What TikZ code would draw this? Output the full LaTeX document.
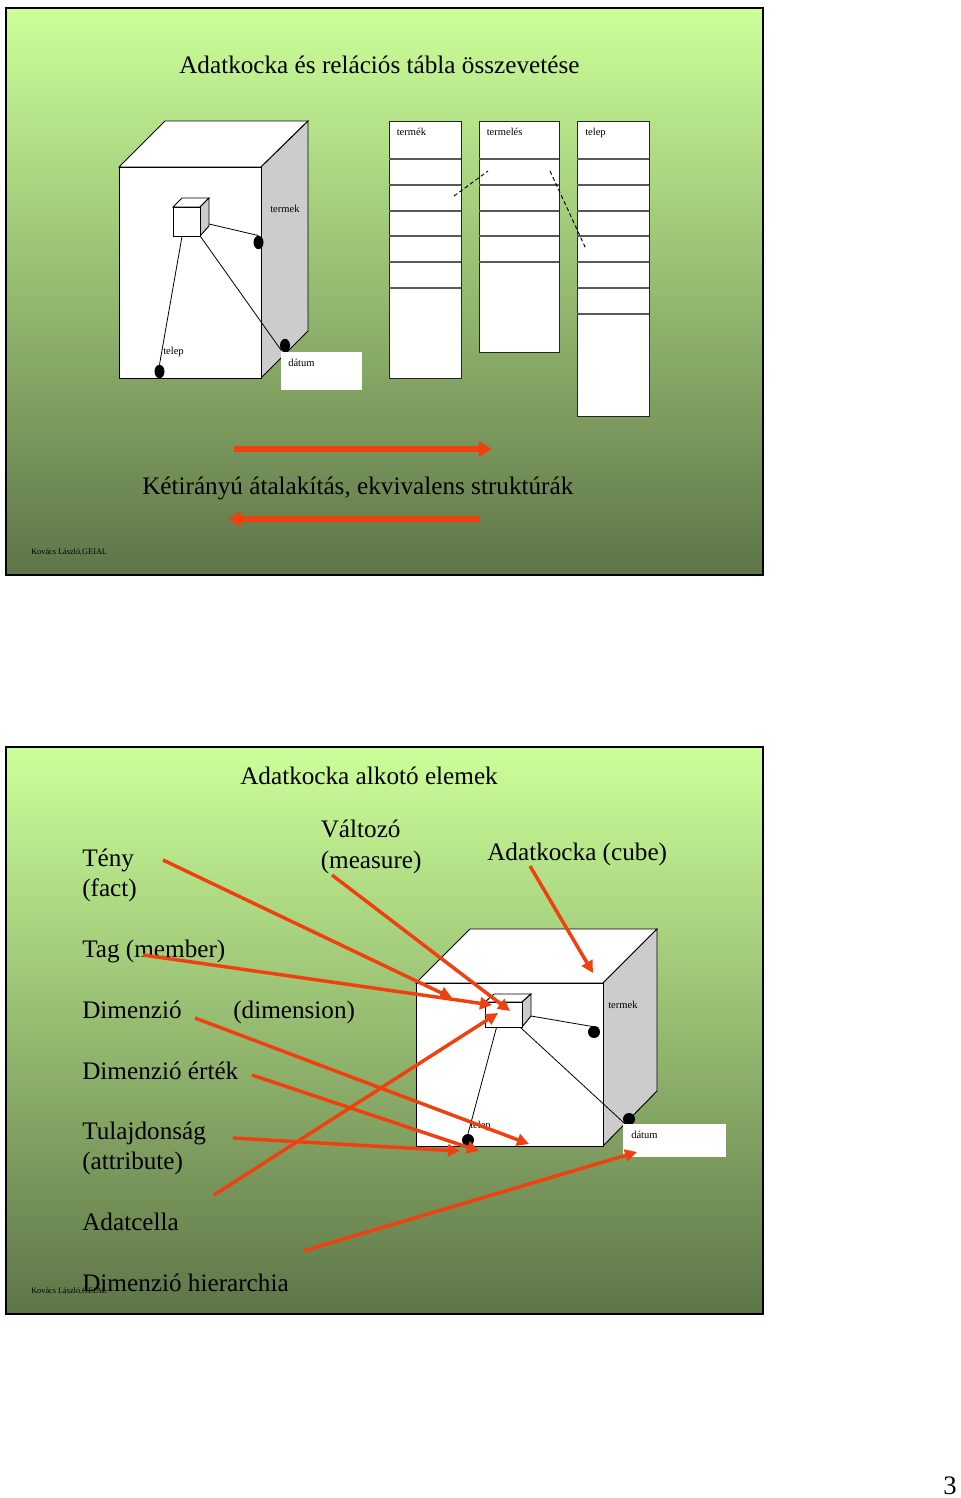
\documentclass[tikz,border=0pt]{standalone}
\usepackage{fontspec}
\setmainfont{Liberation Serif}
\usetikzlibrary{arrows.meta}
\usetikzlibrary{shapes.geometric}
\definecolor{slidetop}{HTML}{CCFF99}
\definecolor{slidebot}{HTML}{5E7548}
\definecolor{redarrow}{HTML}{F04010}
\definecolor{sidegray}{HTML}{CCCCCC}
\tikzset{
  slide/.style={draw=black, line width=2.2pt, top color=slidetop, bottom color=slidebot},
  bigtext/.style={anchor=base west, inner sep=0pt, font=\fontsize{18.9}{22}\selectfont},
  smalltext/.style={anchor=base west, inner sep=0pt, font=\fontsize{7.9}{10}\selectfont},
  footer/.style={anchor=base west, inner sep=0pt, font=\fontsize{6.2}{8}\selectfont},
  face/.style={draw=black, line width=0.7pt, fill=white},
  side/.style={draw=black, line width=0.7pt, fill=sidegray},
  tablebox/.style={draw=black!85, line width=0.7pt, fill=white},
  rowline/.style={draw=black!65, line width=0.8pt},
  axis/.style={draw=black, line width=0.6pt},
  dot/.style={ellipse, fill=black, inner sep=0pt, minimum width=#1},
  redline/.style={draw=redarrow, line width=2.6pt, -{Triangle[length=9pt,width=9pt]}},
  redwide/.style={draw=redarrow, line width=3.8pt, -{Triangle[length=10pt,width=11pt]}}
}
\begin{document}
\begin{tikzpicture}[x=0.75pt, y=-0.75pt]
\useasboundingbox (0,0) rectangle (960,1498);

% Slide 1
\path[slide] (6,8) rectangle (763,575);
\node[bigtext] (title1) at (179,74) {Adatkocka és relációs tábla összevetése};

% Kocka 1
\path[face] (119,167) -- (165,121) -- (308,121) -- (261,167) -- cycle;
\path[side] (261,167) -- (308,121) -- (308,331) -- (261,378) -- cycle;
\path[face] (119,167) rectangle (261,378);
\path[face] (173,207) -- (182,198) -- (209,198) -- (200,207) -- cycle;
\path[side] (200,207) -- (209,198) -- (209,226) -- (200,236) -- cycle;
\node[face, minimum width=20.25pt, minimum height=21.75pt, inner sep=0pt] (cell1) at (186.5,221.5) {};
\coordinate (cell1r) at (209,224);

\node[dot=7.5pt, minimum height=10pt] (dotterm1) at (258.5,242.5) {};
\node[dot=7.5pt, minimum height=10pt] (dottelep1) at (159.5,371.5) {};
\node[dot=7.5pt, minimum height=10pt] (dotdat1) at (285,345.5) {};
\draw[axis] (cell1r) -- (dotterm1.north);
\draw[axis] (cell1.south) ++(-4.5,0) -- (dottelep1.north);
\draw[axis] (cell1.south east) -- (dotdat1.south west);

\node[smalltext] (term1) at (270,213) {termek};
\node[smalltext] (telep1) at (163,354) {telep};
\node[fill=white, minimum width=60.75pt, minimum height=28.5pt, inner sep=0pt] (datbox1) at (321.5,371) {};
\node[smalltext] (dat1) at (288,366) {dátum};

% Tablak
\path[tablebox] (389,121) rectangle (461,378);
\path[tablebox] (479,121) rectangle (559,352);
\path[tablebox] (577,121) rectangle (649,416);
\draw[rowline] (389,159) -- (461,159);
\draw[rowline] (389,185) -- (461,185);
\draw[rowline] (389,211) -- (461,211);
\draw[rowline] (389,236) -- (461,236);
\draw[rowline] (389,262) -- (461,262);
\draw[rowline] (389,288) -- (461,288);
\draw[rowline] (479,159) -- (559,159);
\draw[rowline] (479,185) -- (559,185);
\draw[rowline] (479,211) -- (559,211);
\draw[rowline] (479,236) -- (559,236);
\draw[rowline] (479,262) -- (559,262);
\draw[rowline] (577,159) -- (649,159);
\draw[rowline] (577,185) -- (649,185);
\draw[rowline] (577,211) -- (649,211);
\draw[rowline] (577,236) -- (649,236);
\draw[rowline] (577,262) -- (649,262);
\draw[rowline] (577,288) -- (649,288);
\draw[rowline] (577,314) -- (649,314);
\node[smalltext] (thead1) at (396.5,136) {termék};
\node[smalltext] (thead2) at (486.5,136) {termelés};
\node[smalltext] (thead3) at (585,136) {telep};

\coordinate (fkA) at (454,196);
\coordinate (fkB) at (488,171);
\coordinate (fkC) at (550,171);
\coordinate (fkD) at (586,249);
\draw[line width=0.7pt, dash pattern=on 3pt off 2pt] (fkA) -- (fkB);
\draw[line width=0.7pt, dash pattern=on 3pt off 2pt] (fkC) -- (fkD);

% Nyilak
\node[bigtext] (convert) at (142,494) {Kétirányú átalakítás, ekvivalens struktúrák};
\coordinate (toA) at (234,449);
\coordinate (toB) at (492,449);
\coordinate (backA) at (480,519);
\coordinate (backB) at (228,519);
\draw[redwide] (toA) -- (toB);
\draw[redwide] (backA) -- (backB);
\node[footer] (foot1) at (31,554) {Kovács László,GEIAL};

% Slide 2
\path[slide] (6,747) rectangle (763,1314);
\node[bigtext] (title2) at (240,784) {Adatkocka alkotó elemek};
\node[bigtext] (fact1) at (82,866) {Tény};
\node[bigtext] (fact2) at (82,896) {(fact)};
\node[bigtext] (meas1) at (320.5,837) {Változó};
\node[bigtext] (meas2) at (320.5,868) {(measure)};
\node[bigtext] (cube) at (487,860) {Adatkocka (cube)};
\node[bigtext] (member) at (82,957) {Tag (member)};
\node[bigtext] (dimen) at (82,1018) {Dimenzió};
\node[bigtext] (dimen2) at (233,1018) {(dimension)};
\node[bigtext] (value) at (82,1079) {Dimenzió érték};
\node[bigtext] (attr1) at (82,1139) {Tulajdonság};
\node[bigtext] (attr2) at (82,1169) {(attribute)};
\node[bigtext] (celltxt) at (82,1230) {Adatcella};
\node[bigtext] (hier) at (82,1291) {Dimenzió hierarchia};
\node[footer] (foot2) at (31,1293) {Kovács László,GEIAL};

% Kocka 2
\path[face] (416,983) -- (470,929) -- (657,929) -- (603,983) -- cycle;
\path[side] (603,983) -- (657,929) -- (657,1091) -- (603,1146) -- cycle;
\path[face] (416,983) rectangle (603,1146);
\path[face] (485,1002) -- (494,994) -- (531,994) -- (522,1002) -- cycle;
\path[side] (522,1002) -- (531,994) -- (531,1016) -- (522,1027) -- cycle;
\node[face, minimum width=27.75pt, minimum height=18.75pt, inner sep=0pt] (cell2) at (503.5,1014.5) {};
\coordinate (cell2r) at (531,1016);

\node[dot=9pt, minimum height=9pt] (dotterm2) at (594,1032) {};
\node[dot=9pt, minimum height=9pt] (dottelep2) at (468,1140) {};
\node[dot=9pt, minimum height=9pt] (dotdat2) at (629,1119) {};
\draw[axis] (cell2r) -- (dotterm2.north east);
\draw[axis] (cell2.south) ++(-7,0) -- (dottelep2.north);
\draw[axis] (cell2.south east) ++(-2,0) -- (dotdat2.south west);

\node[smalltext] (term2) at (608,1008.5) {termek};
\node[smalltext] (telep2) at (470,1128) {telep};
\node[fill=white, minimum width=77.25pt, minimum height=24.75pt, inner sep=0pt] (datbox2) at (674.5,1140.5) {};
\node[smalltext] (dat2) at (631,1138.5) {dátum};

% Piros nyilak
\coordinate (factS) at (163,860);
\coordinate (factE) at (452,998);
\coordinate (measS) at (332,875);
\coordinate (measE) at (510,1011);
\coordinate (cubeS) at (530,866);
\coordinate (cubeE) at (593,973);
\coordinate (membS) at (143,955);
\coordinate (membE) at (492,1005);
\coordinate (dimS) at (195,1018);
\coordinate (dimE) at (529,1144);
\coordinate (valS) at (252,1075);
\coordinate (valE) at (479,1151);
\coordinate (attrS) at (233,1138);
\coordinate (attrE) at (460,1151);
\coordinate (cellS) at (214,1195);
\coordinate (cellE) at (498,1013);
\coordinate (hierS) at (303,1251);
\coordinate (hierE) at (637,1152);
\draw[redline] (factS) -- (factE);
\draw[redline] (measS) -- (measE);
\draw[redline] (cubeS) -- (cubeE);
\draw[redline] (membS) -- (membE);
\draw[redline] (dimS) -- (dimE);
\draw[redline] (valS) -- (valE);
\draw[redline] (attrS) -- (attrE);
\draw[redline] (cellS) -- (cellE);
\draw[redline] (hierS) -- (hierE);

\node[anchor=base west, inner sep=0pt, font=\fontsize{20}{24}\selectfont] (pagenum) at (943,1494.5) {3};

\end{tikzpicture}
\end{document}
